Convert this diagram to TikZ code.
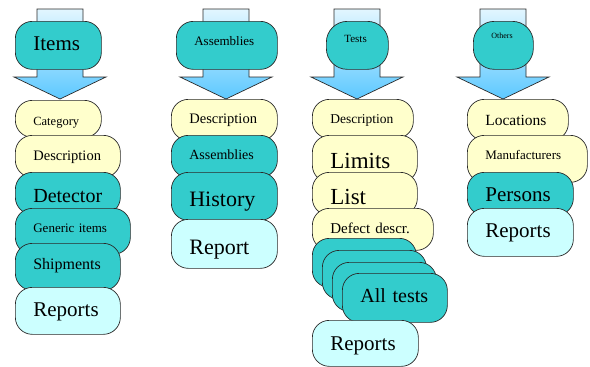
\documentclass[tikz,border=0pt]{standalone}
\usepackage{fontspec}
\setmainfont{Liberation Serif}
\definecolor{teal}{HTML}{33CCCC}
\definecolor{yel}{HTML}{FFFFCC}
\definecolor{cyanL}{HTML}{CCFFFF}
\definecolor{edge}{HTML}{2A2A2A}
\definecolor{arrTop}{HTML}{E2F6FF}
\definecolor{arrBot}{HTML}{5CC8FF}
\tikzset{
  rbox/.style={draw=edge, line width=0.7pt, rounded corners=17pt,
    inner xsep=18pt, inner ysep=0pt, align=left, anchor=north west},
  roundhead/.style={rounded corners=21pt},
  flowarrow/.style={draw=edge, line width=0.7pt, top color=arrTop, bottom color=arrBot}
}
% #1 name, #2 left, #3 top, #4 width, #5 height, #6 fill (and extra keys),
% #7 font size, #8 baseline below top, #9 text
\newcommand\rbox[9]{%
  \pgfmathsetmacro\rbTW{#4-36}%
  \pgfmathsetmacro\rbTD{#5-#8}%
  \node[rbox, fill=#6, font=\fontsize{#7}{#7}\selectfont,
        text width=\rbTW pt, text height=#8pt, text depth=\rbTD pt]
        (#1) at (#2,#3) {\mbox{#9}};}
% broad down arrow centred on #1
\newcommand\flowdown[1]{%
  \path[flowarrow] (#1-23,9) -- (#1+23,9) -- (#1+23,77) -- (#1+46,77)
     -- (#1,99) -- (#1-46,77) -- (#1-23,77) -- cycle;}
\begin{document}
\begin{tikzpicture}[x=1pt,y=-1pt]
\useasboundingbox (0,0) rectangle (590,367);

% Items column
\flowdown{60}
\rbox{items}{15}{21}{86}{48}{teal}{21}{29}{Items}
\rbox{cat}{15}{100}{86}{37}{yel}{12.5}{25}{Category}
\rbox{descA}{15}{135}{105}{42}{yel}{14.5}{25}{Description}
\rbox{det}{15}{172}{105}{42}{teal}{20}{30}{Detector}
\rbox{gen}{15}{208}{115}{46}{teal}{13}{24}{Generic items}
\rbox{ship}{15}{243}{105}{47}{teal}{16}{26}{Shipments}
\rbox{repA}{15}{287}{105}{47}{cyanL}{21}{29}{Reports}

% Assemblies column
\flowdown{226}
\rbox{asmH}{176}{21}{101}{48}{teal}{13}{24}{Assemblies}
\rbox{descB}{171}{99}{106}{41}{yel}{14.5}{24}{Description}
\rbox{asm}{171}{135}{106}{42}{teal}{14}{24}{Assemblies}
\rbox{hist}{171}{172}{106}{48}{teal}{22}{34}{History}
\rbox{repB}{171}{219}{106}{49}{cyanL}{22}{35}{Report}

% Tests column
\flowdown{357}
\rbox{tests}{326}{21}{62}{48}{teal,roundhead}{11}{21}{Tests}
\rbox{descC}{312}{99}{101}{39}{yel}{13.5}{24}{Description}
\rbox{lim}{312}{135}{105}{47}{yel}{23}{33}{Limits}
\rbox{list}{312}{172}{105}{43}{yel}{23}{32}{List}
\rbox{defect}{312}{208}{121}{42}{yel}{15}{25}{Defect descr.}
\rbox{testA}{312}{238}{104}{49}{teal}{20}{29}{}
\rbox{testB}{322}{250}{104}{49}{teal}{20}{29}{}
\rbox{testC}{332}{262}{104}{49}{teal}{20}{29}{}
\rbox{alltests}{342}{273}{105}{49}{teal}{20}{29}{All tests}
\rbox{repC}{312}{320}{106}{46}{cyanL}{21}{30}{Reports}

% Others column
\flowdown{503}
\rbox{others}{473}{21}{60}{48}{teal,roundhead}{8}{17}{Others}
\rbox{loc}{467}{99}{101}{41}{yel}{15.5}{26}{Locations}
\rbox{manu}{467}{135}{120}{47}{yel}{13}{24}{Manufacturers}
\rbox{pers}{467}{172}{106}{43}{teal}{21}{29}{Persons}
\rbox{repD}{467}{208}{106}{48}{cyanL}{21}{29}{Reports}
\end{tikzpicture}
\end{document}
